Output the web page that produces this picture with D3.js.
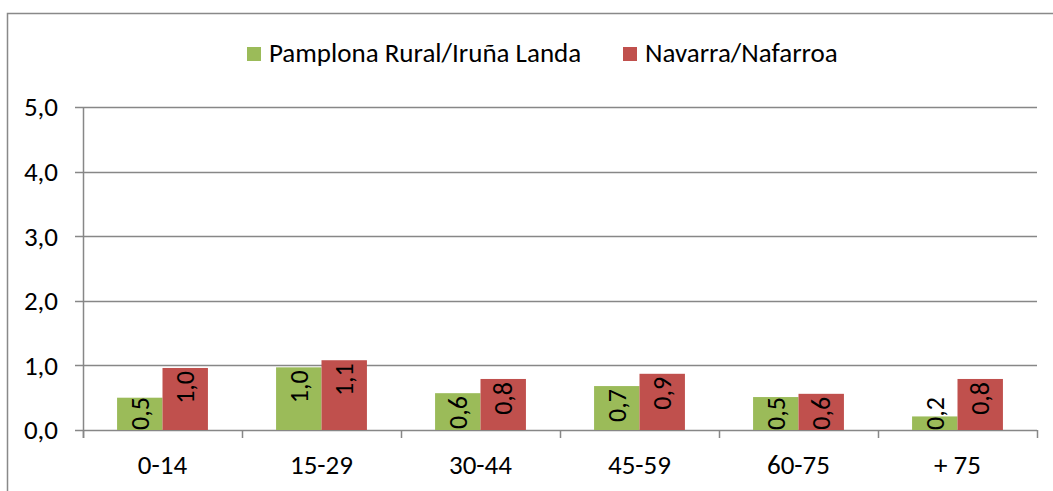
<!DOCTYPE html>
<html>
<head>
<meta charset="utf-8">
<script src="https://cdn.jsdelivr.net/npm/d3@7"></script>
<style>
  body { margin: 0; background: #fff; }
  text { font-family: Carlito, Lato, "Open Sans", sans-serif; fill: #000; }
</style>
</head>
<body>
<svg id="chart"></svg>
<script>
// Data
var categories = ["0-14", "15-29", "30-44", "45-59", "60-75", "+ 75"];
var seriesNames = ["Pamplona Rural/Iruña Landa", "Navarra/Nafarroa"];
var pamplona = [0.50, 0.97, 0.57, 0.68, 0.51, 0.21];
var navarra = [0.96, 1.08, 0.79, 0.87, 0.56, 0.79];
var yTicks = [0, 1, 2, 3, 4, 5];
var colors = ["#9bbb59", "#c0504d"];

// SVG size params
var width = 1053, height = 491;
var margin = {top: 107, right: 16, bottom: 61, left: 83};
var innerW = width - margin.left - margin.right;
var innerH = height - margin.top - margin.bottom;

var svg = d3.select("#chart")
    .attr("width", width)
    .attr("height", height);

// Outer border
svg.append("rect")
    .attr("x", 7.5).attr("y", 13.5)
    .attr("width", width + 10).attr("height", height + 10)
    .attr("fill", "none")
    .attr("stroke", "#898989")
    .attr("stroke-width", 1.5);

var g = svg.append("g")
    .attr("transform", "translate(" + margin.left + "," + margin.top + ")");

// Scales
var x = d3.scaleBand().domain(categories).range([0, innerW]);
var y = d3.scaleLinear().domain([0, 5]).range([innerH, 0]);
var barW = x.bandwidth() / 3.5;
var fmt = function(v) { return d3.format(".1f")(v).replace(".", ","); };

// Gridlines
g.selectAll(".grid")
    .data(yTicks)
  .enter().append("line")
    .attr("x1", -8).attr("x2", innerW)
    .attr("y1", function(d) { return Math.round(y(d)) + 0.5; })
    .attr("y2", function(d) { return Math.round(y(d)) + 0.5; })
    .attr("stroke", "#878787")
    .attr("stroke-width", 1.5);

// Y axis line
g.append("line")
    .attr("x1", 0.5).attr("x2", 0.5)
    .attr("y1", 0).attr("y2", innerH + 8)
    .attr("stroke", "#878787").attr("stroke-width", 1.5);

// X ticks
g.selectAll(".xtick")
    .data(d3.range(categories.length + 1))
  .enter().append("line")
    .attr("x1", function(i) { return Math.round(i * x.step()) + 0.5; })
    .attr("x2", function(i) { return Math.round(i * x.step()) + 0.5; })
    .attr("y1", innerH).attr("y2", innerH + 8)
    .attr("stroke", "#878787").attr("stroke-width", 1.5);

// Y labels
g.selectAll(".ylab")
    .data(yTicks)
  .enter().append("text")
    .attr("x", -25)
    .attr("y", function(d) { return y(d); })
    .attr("dy", "0.35em")
    .attr("text-anchor", "end")
    .attr("font-size", 27)
    .text(fmt);

// X labels
g.selectAll(".xlab")
    .data(categories)
  .enter().append("text")
    .attr("x", function(d) { return x(d) + x.bandwidth() / 2; })
    .attr("y", innerH + 35)
    .attr("dy", "0.35em")
    .attr("text-anchor", "middle")
    .attr("font-size", 27)
    .text(function(d) { return d; });

// Bars and labels
[pamplona, navarra].forEach(function(series, s) {
  var bars = g.selectAll(".bar" + s)
      .data(series)
    .enter().append("g");

  bars.append("rect")
      .attr("x", function(d, i) { return x(categories[i]) + x.bandwidth() / 2 - barW + s * barW; })
      .attr("y", function(d) { return y(d); })
      .attr("width", barW)
      .attr("height", function(d) { return innerH - y(d); })
      .attr("fill", colors[s]);

  bars.append("text")
      .attr("dy", "0.35em")
      .attr("text-anchor", "end")
      .attr("font-size", 26)
      .text(fmt)
      .attr("transform", function(d, i) {
        var cx = x(categories[i]) + x.bandwidth() / 2 - barW / 2 + s * barW;
        var len = this.getComputedTextLength();
        var top = Math.min(y(d) + 3, innerH - len);
        return "translate(" + cx + "," + top + ") rotate(-90)";
      });
});

// Legend
var legendX = [247, 623];
var legend = svg.selectAll(".legend")
    .data(seriesNames)
  .enter().append("g")
    .attr("transform", function(d, i) { return "translate(" + legendX[i] + ",47)"; });

legend.append("rect")
    .attr("width", 14).attr("height", 14)
    .attr("fill", function(d, i) { return colors[i]; });

legend.append("text")
    .attr("x", 22).attr("y", 6)
    .attr("dy", "0.35em")
    .attr("font-size", 27)
    .text(function(d) { return d; });
</script>
</body>
</html>
